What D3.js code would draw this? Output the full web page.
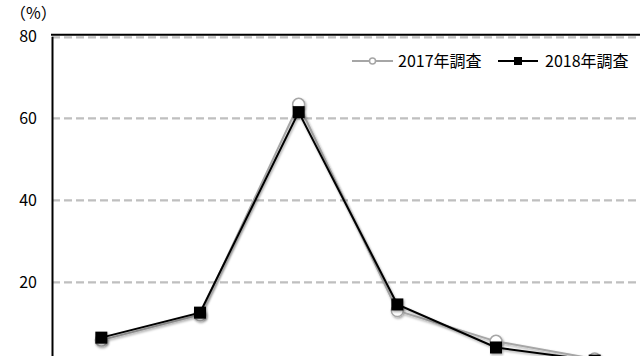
<!DOCTYPE html>
<html>
<head>
<meta charset="utf-8">
<script src="https://cdn.jsdelivr.net/npm/d3@7"></script>
<style>
  html, body { margin:0; padding:0; background:#fff; }
  svg { display:block; }
</style>
</head>
<body>
<svg id="chart"></svg>
<script>
// categories (their labels sit below the visible area)
const categories=["区分1","区分2","区分3","区分4","区分5","区分6"];
const series2017=[5.9, 12.1, 63.4, 13.1, 5.6, 1.3];
const series2018=[6.5, 12.6, 61.5, 14.6, 4.1, 0.9];
const yTicks=[20, 40, 60, 80];
const seriesNames=["2017年調査","2018年調査"];

const width=640, height=356;
const font="'Noto Sans CJK JP', 'Noto Sans', sans-serif";

const svg=d3.select("#chart").attr("width", width).attr("height", height);

const defs=svg.append("defs");
defs.append("filter").attr("id","shadow")
    .attr("x","-50%").attr("y","-50%").attr("width","200%").attr("height","200%")
  .append("feDropShadow")
    .attr("dx",1).attr("dy",1.5).attr("stdDeviation",1)
    .attr("flood-color","#000").attr("flood-opacity",0.35);

// plot area: the bottom and right run past the picture
const plotLeft=52, plotRight=644;
const x=d3.scalePoint().domain(categories).range([plotLeft, plotRight]).padding(0.5);
const y=d3.scaleLinear().domain([0, 80]).range([364.3, 36.3]);

// gridlines
svg.append("g").selectAll("line").data(yTicks).join("line")
    .attr("x1", plotLeft).attr("x2", width)
    .attr("y1", d=>y(d)+ (d===80 ? 1 : 0)).attr("y2", d=>y(d)+ (d===80 ? 1 : 0))
    .attr("stroke","#bfbfbf").attr("stroke-width",2.2)
    .attr("stroke-dasharray","8,4");

// plot border (top and left)
svg.append("line")
    .attr("x1", plotLeft-1).attr("x2", width)
    .attr("y1", y(80)-1.6).attr("y2", y(80)-1.6)
    .attr("stroke","#000").attr("stroke-width",2);

const yAxis=d3.axisLeft(y).tickValues(yTicks).tickSize(0).tickPadding(15);
const yG=svg.append("g").attr("transform",`translate(${plotLeft},0)`).call(yAxis);
yG.select(".domain").attr("stroke","#000").attr("stroke-width",2);
yG.selectAll("text").attr("font-family",font).attr("font-size",16).attr("fill","#000");

svg.append("text")
    .attr("x",10).attr("y",13).attr("dy","0.36em")
    .attr("font-family",font).attr("font-size",16)
    .text("（%）");

const line=d3.line().x((d,i)=>x(categories[i])).y(d=>y(d));

// 2017
const g17=svg.append("g").attr("filter","url(#shadow)");
g17.append("path").datum(series2017)
    .attr("d",line).attr("fill","none")
    .attr("stroke","#a6a6a6").attr("stroke-width",2);
g17.selectAll("circle").data(series2017).join("circle")
    .attr("cx",(d,i)=>x(categories[i])).attr("cy",d=>y(d))
    .attr("r",6).attr("fill","#fff")
    .attr("stroke","#a6a6a6").attr("stroke-width",1.5);

// 2018
const g18=svg.append("g").attr("filter","url(#shadow)");
g18.append("path").datum(series2018)
    .attr("d",line).attr("fill","none")
    .attr("stroke","#000").attr("stroke-width",2);
g18.selectAll("rect").data(series2018).join("rect")
    .attr("x",(d,i)=>x(categories[i])-6).attr("y",d=>y(d)-6)
    .attr("width",12).attr("height",12)
    .attr("fill","#000");

// legend
const legend=svg.append("g").attr("font-family",font).attr("font-size",16);
const legendY=61;
const l17=legend.append("g").attr("transform",`translate(352,${legendY})`);
l17.append("line").attr("x1",0).attr("x2",41).attr("y1",0).attr("y2",0)
    .attr("stroke","#a6a6a6").attr("stroke-width",2);
l17.append("circle").attr("cx",20.5).attr("cy",0).attr("r",3)
    .attr("fill","#fff").attr("stroke","#a6a6a6").attr("stroke-width",1.5);
l17.append("text").attr("x",46).attr("y",0).attr("dy","0.36em").text(seriesNames[0]);

const l18=legend.append("g").attr("transform",`translate(498,${legendY})`);
l18.append("line").attr("x1",0).attr("x2",40).attr("y1",0).attr("y2",0)
    .attr("stroke","#000").attr("stroke-width",2);
l18.append("rect").attr("x",16).attr("y",-4).attr("width",8).attr("height",8)
    .attr("fill","#000");
l18.append("text").attr("x",47).attr("y",0).attr("dy","0.36em").text(seriesNames[1]);
</script>
</body>
</html>
